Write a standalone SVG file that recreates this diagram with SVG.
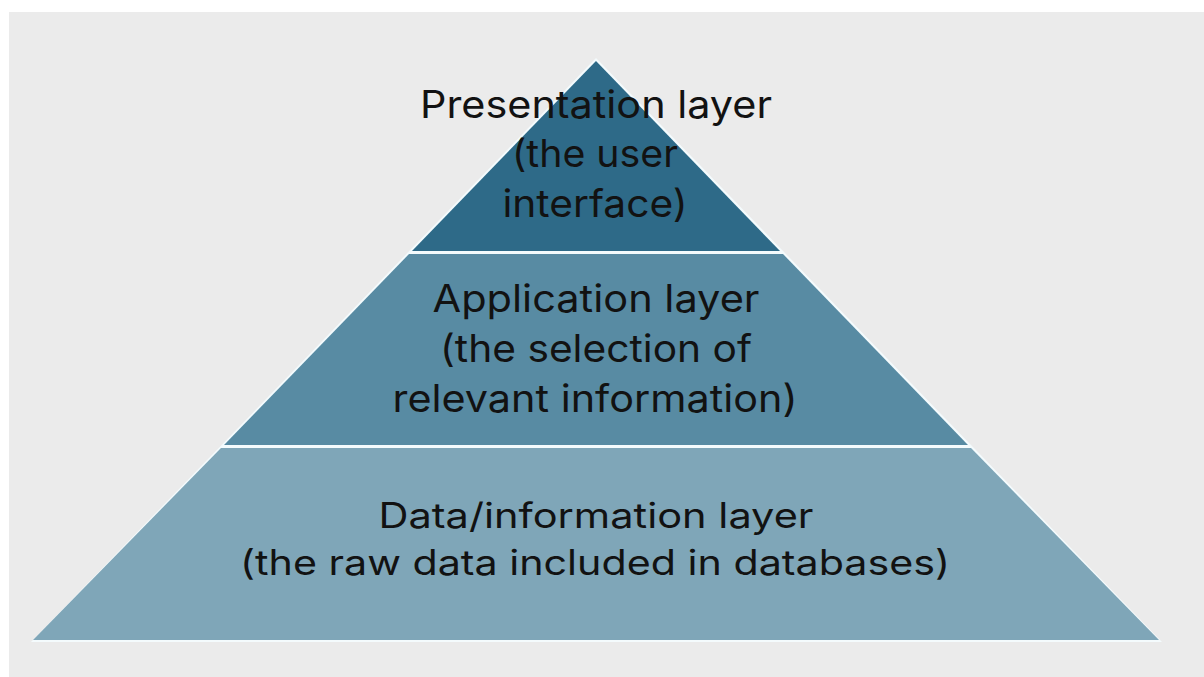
<svg xmlns="http://www.w3.org/2000/svg" width="1204" height="677" viewBox="0 0 1204 677">
<style>
.lbl{font-family:Inter,"Open Sans","Liberation Sans",sans-serif;fill:#121212;text-anchor:middle}
.t{font-size:38px}
.b{font-size:35px}
</style>
<rect width="1204" height="677" fill="#ffffff"/>
<rect x="9" y="12" width="1195" height="665" fill="#ebebeb"/>
<polygon points="596,58 1162,642 31,642" fill="#f4fbfd"/>
<g id="layer-presentation">
<polygon points="596,61 780,251 412,251" fill="#2e6a88"/>
<text class="lbl t" x="596" y="118" textLength="352" lengthAdjust="spacingAndGlyphs">Presentation layer</text>
<text class="lbl t" x="595" y="167" textLength="166" lengthAdjust="spacingAndGlyphs">(the user</text>
<text class="lbl t" x="595" y="217" textLength="185" lengthAdjust="spacingAndGlyphs">interface)</text>
</g>
<g id="layer-application">
<polygon points="409,254 783,254 968,445 224,445" fill="#588ba3"/>
<text class="lbl t" x="596" y="312" textLength="327" lengthAdjust="spacingAndGlyphs">Application layer</text>
<text class="lbl t" x="596" y="362" textLength="312" lengthAdjust="spacingAndGlyphs">(the selection of</text>
<text class="lbl t" x="595" y="412" textLength="405" lengthAdjust="spacingAndGlyphs">relevant information)</text>
</g>
<g id="layer-data">
<polygon points="221,448 971,448 1159,640 33,640" fill="#7fa6b8"/>
<text class="lbl b" x="596" y="528" textLength="435" lengthAdjust="spacingAndGlyphs">Data/information layer</text>
<text class="lbl b" x="595" y="575" textLength="710" lengthAdjust="spacingAndGlyphs">(the raw data included in databases)</text>
</g>
<g id="connectors"></g>
</svg>
